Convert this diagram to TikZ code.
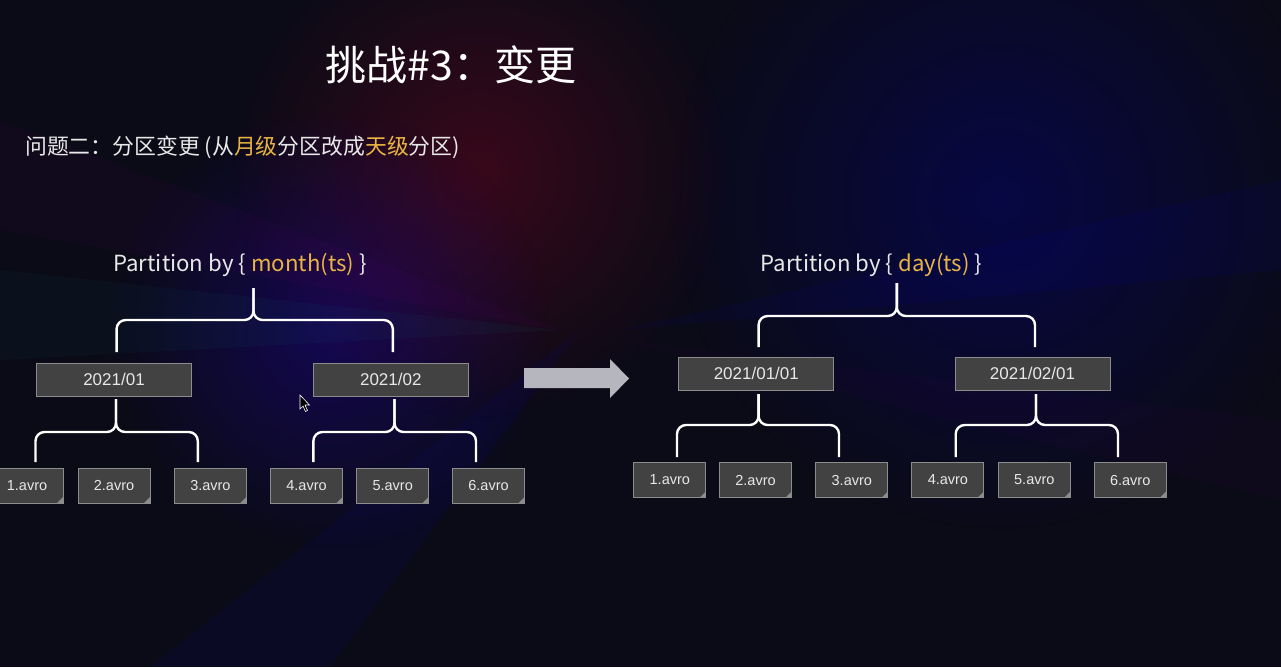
\documentclass[tikz,border=0pt]{standalone}
\usepackage{fontspec}
\newfontfamily\cjk{Noto Sans CJK SC}
\newfontfamily\arialf{Liberation Sans}
\usetikzlibrary{calc,fadings}
\tikzfading[name=myglow, inner color=transparent!0, outer color=transparent!100]
\definecolor{bg}{HTML}{0B0B17}
\definecolor{boxfill}{HTML}{424242}
\definecolor{boxline}{HTML}{8C8C8C}
\definecolor{hl}{HTML}{E8B545}
\definecolor{txt}{HTML}{E8E8E8}
\definecolor{arrowgray}{HTML}{B6B6BE}
\begin{document}
\begin{tikzpicture}[x=1pt,y=-1pt,
  datebox/.style={draw=boxline, line width=1pt, fill=boxfill, minimum width=155pt, minimum height=33pt, inner sep=0pt, text=txt, font=\arialf\fontsize{17}{20}\selectfont},
  filebox/.style={draw=boxline, line width=1pt, fill=boxfill, minimum width=72pt, minimum height=35pt, inner sep=0pt, text=txt, font=\arialf\fontsize{14.5}{17}\selectfont,
    path picture={\fill[boxline] ($(path picture bounding box.south east)+(-6,0)$) -- (path picture bounding box.south east) -- ($(path picture bounding box.south east)+(0,-6)$) -- cycle;}},
  bracel/.style={draw=white, line width=2.4pt, rounded corners=9pt},
  parttext/.style={font=\cjk\fontsize{22.2}{26}\selectfont, text=txt, inner sep=0pt},
]
% background
\fill[bg] (0,0) rectangle (1281,667);
\useasboundingbox (0,0) rectangle (1281,667);
\begin{scope}
\clip (0,0) rectangle (1281,667);
\fill[purple!60!red, path fading=myglow, opacity=0.22] (480,170) circle (250);
\fill[blue!70!violet, path fading=myglow, opacity=0.30] (330,330) circle (220);
\fill[blue!60!black, path fading=myglow, opacity=0.35] (1000,200) circle (330);
\fill[violet, opacity=0.06] (560,330) -- (0,120) -- (0,230) -- cycle;
\fill[teal, opacity=0.06] (560,330) -- (0,270) -- (0,360) -- cycle;
\fill[blue, opacity=0.06] (580,330) -- (150,667) -- (330,667) -- cycle;
\fill[blue, opacity=0.05] (620,330) -- (1281,180) -- (1281,270) -- cycle;
\fill[violet, opacity=0.04] (620,340) -- (1281,420) -- (1281,500) -- cycle;
\end{scope}

% titles
\node[font=\cjk\fontsize{41}{48}\selectfont, text=white, inner sep=0pt] (title) at (451,65) {挑战\#3：变更};
\node[anchor=west, font=\cjk\fontsize{21.85}{26}\selectfont, text=txt, inner sep=0pt] (sub) at (25,147) {问题二：分区变更 (从\textcolor{hl}{月级}分区改成\textcolor{hl}{天级}分区)};

% left tree
\node[parttext] (plabL) at (240,265) {Partition by \{ \textcolor{hl}{month(ts)} \}};
\node[datebox] (m1) at (114,379.5) {2021/01};
\node[datebox] (m2) at (390.8,379.5) {2021/02};
\node[filebox] (f1) at (27,485.5) {1.avro};
\node[filebox] (f2) at (114,485.5) {2.avro};
\node[filebox] (f3) at (210.4,485.5) {3.avro};
\node[filebox] (f4) at (306.5,485.5) {4.avro};
\node[filebox] (f5) at (392.7,485.5) {5.avro};
\node[filebox] (f6) at (488.5,485.5) {6.avro};

\coordinate (lt) at (253.5,288);
\coordinate (lj) at (253.5,320);
\coordinate (le1) at (116.6,352);
\coordinate (le2) at (392.8,352);
\draw[bracel] (le1) |- (lj) -- (lt);
\draw[bracel] (le2) |- (lj) -- (lt);

\coordinate (m1t) at (116,399);
\coordinate (m1j) at (116,432);
\coordinate (m1a) at (35.5,462);
\coordinate (m1b) at (197.8,462);
\draw[bracel] (m1a) |- (m1j) -- (m1t);
\draw[bracel] (m1b) |- (m1j) -- (m1t);

\coordinate (m2t) at (394.5,399);
\coordinate (m2j) at (394.5,432);
\coordinate (m2a) at (313.4,462);
\coordinate (m2b) at (476,462);
\draw[bracel] (m2a) |- (m2j) -- (m2t);
\draw[bracel] (m2b) |- (m2j) -- (m2t);

% cursor
\draw[white, line width=0.6pt, fill=black] (300,395) -- (300,409) -- (303,406) -- (305.5,411.5) -- (307.5,410.5) -- (305,405) -- (309.5,405) -- cycle;

% big arrow
\fill[arrowgray] (524,368) -- (610,368) -- (610,359) -- (629,378.5) -- (610,398) -- (610,388) -- (524,388) -- cycle;

% right tree
\node[parttext] (plabR) at (871.5,265) {Partition by \{ \textcolor{hl}{day(ts)} \}};
\node[datebox] (d1) at (756.3,373.7) {2021/01/01};
\node[datebox] (d2) at (1032.5,373.7) {2021/02/01};
\node[filebox] (g1) at (669.8,480) {1.avro};
\node[filebox] (g2) at (755.5,480) {2.avro};
\node[filebox] (g3) at (851.8,480) {3.avro};
\node[filebox] (g4) at (947.9,480) {4.avro};
\node[filebox] (g5) at (1034.3,480) {5.avro};
\node[filebox] (g6) at (1130.2,480) {6.avro};

\coordinate (rt) at (896.8,283);
\coordinate (rj) at (896.8,316);
\coordinate (re1) at (758.6,347);
\coordinate (re2) at (1035,347);
\draw[bracel] (re1) |- (rj) -- (rt);
\draw[bracel] (re2) |- (rj) -- (rt);

\coordinate (d1t) at (758.6,394);
\coordinate (d1j) at (758.6,425);
\coordinate (d1a) at (677,457);
\coordinate (d1b) at (839,457);
\draw[bracel] (d1a) |- (d1j) -- (d1t);
\draw[bracel] (d1b) |- (d1j) -- (d1t);

\coordinate (d2t) at (1036,394);
\coordinate (d2j) at (1036,425);
\coordinate (d2a) at (955.7,457);
\coordinate (d2b) at (1118,457);
\draw[bracel] (d2a) |- (d2j) -- (d2t);
\draw[bracel] (d2b) |- (d2j) -- (d2t);
\end{tikzpicture}
\end{document}
